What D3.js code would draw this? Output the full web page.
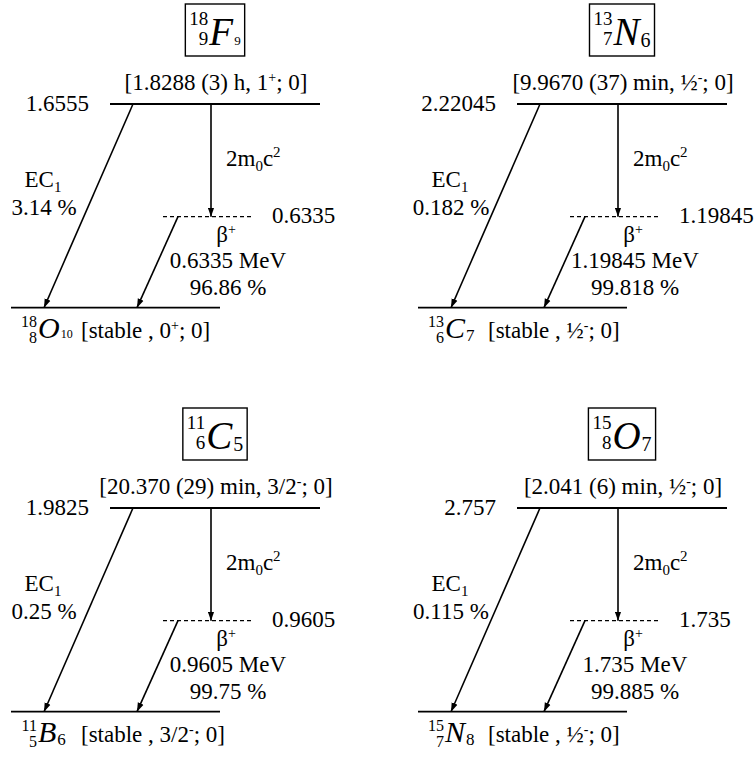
<!DOCTYPE html>
<html>
<head>
<meta charset="utf-8">
<script src="https://cdn.jsdelivr.net/npm/d3@7"></script>
<style>
  body { margin: 0; background: #fff; }
  svg, svg text { font-family: "Liberation Serif", "Times New Roman", Tinos, "DejaVu Serif", "Noto Serif", serif; }
  text { fill: #000; }
</style>
</head>
<body>
<svg id="chart" width="754" height="759"></svg>
<script>
// ---- Decay data: four positron emitters and their stable daughters ----
const parentSymbol   = ["F", "N", "C", "O"];
const parentA        = [18, 13, 11, 15];
const parentZ        = [9, 7, 6, 8];
const parentN        = [9, 6, 5, 7];
const halfLife       = ["1.8288 (3) h", "9.9670 (37) min", "20.370 (29) min", "2.041 (6) min"];
const parentSpin     = ["1", "½", "3/2", "½"];
const parentParity   = ["+", "-", "-", "-"];
const decayEnergy    = [1.6555, 2.22045, 1.9825, 2.757];    // MeV, EC transition energy
const betaEnergy     = [0.6335, 1.19845, 0.9605, 1.735];    // MeV, positron end-point energy
const ecBranch       = [3.14, 0.182, 0.25, 0.115];          // %
const betaBranch     = [96.86, 99.818, 99.75, 99.885];      // %
const daughterSymbol = ["O", "C", "B", "N"];
const daughterA      = [18, 13, 11, 15];
const daughterZ      = [8, 6, 5, 7];
const daughterN      = [10, 7, 6, 8];
const daughterSpin   = ["0", "½", "3/2", "½"];
const daughterParity = ["+", "-", "-", "-"];
const levelNames     = ["parent", "annihilation", "ground"];

// ---- Layout ----
const FONT = '"Liberation Serif", "Times New Roman", Tinos, "DejaVu Serif", serif';
const smallNeutronScript = [true, false, false, false];
const svg = d3.select("#chart").attr("font-family", FONT);
const colX = d3.scaleOrdinal().domain([0, 1]).range([0, 407]);
const rowY = d3.scaleOrdinal().domain([0, 1]).range([0, 404]);
const levelY = d3.scaleOrdinal().domain(levelNames).range([104, 216.7, 307.7]);
const FS = 23;

const defs = svg.append("defs");
defs.append("marker")
  .attr("id", "arrow")
  .attr("viewBox", "0 0 10 7")
  .attr("refX", 10).attr("refY", 3.5)
  .attr("markerWidth", 9).attr("markerHeight", 7)
  .attr("markerUnits", "userSpaceOnUse")
  .attr("orient", "auto")
  .append("path").attr("d", "M0,0 L10,3.5 L0,7 Z").attr("fill", "#000");

// Nuclide symbol with pre-scripts A (top) and Z (bottom) and post-subscript N
function nuclide(g, x, base, sym, A, Z, N, o) {
  const grp = g.append("g");
  grp.append("text").attr("x", x - 1).attr("y", base - o.supRise)
    .attr("text-anchor", "end").attr("font-size", o.script).text(A);
  grp.append("text").attr("x", x - 1).attr("y", base + o.subDrop)
    .attr("text-anchor", "end").attr("font-size", o.script).text(Z);
  const s = grp.append("text").attr("x", x).attr("y", base)
    .attr("font-size", o.sym).attr("font-style", "italic").text(sym);
  const w = s.node().getComputedTextLength();
  grp.append("text").attr("x", x + w + o.nGap).attr("y", base + o.nDrop)
    .attr("font-size", o.nSize).text(N);
  return grp;
}

d3.range(4).forEach(i => {
  const g = svg.append("g")
    .attr("transform", `translate(${colX(i % 2)},${rowY(Math.floor(i / 2))})`);
  const yP = levelY("parent"), yA = levelY("annihilation"), yG = levelY("ground");

  // parent nuclide in a frame
  const small = smallNeutronScript[i];
  const pn = nuclide(g, 209, 45, parentSymbol[i], parentA[i], parentZ[i], parentN[i],
    { sym: 39, script: 19, supRise: 20, subDrop: 0, nGap: 1, nDrop: small ? 0 : 2, nSize: small ? 13 : 20 });
  const bb = pn.node().getBBox();
  const cx = 215, shift = cx - (bb.x + bb.width / 2);
  pn.attr("transform", `translate(${shift},0)`);
  const bw = bb.width + 8;
  g.append("rect").attr("x", cx - bw / 2).attr("y", 4).attr("width", bw).attr("height", 52)
    .attr("fill", "none").attr("stroke", "#000").attr("stroke-width", 1.4);

  // half-life, spin-parity label
  const hl = g.append("text").attr("x", 216).attr("y", 90).attr("text-anchor", "middle")
    .attr("font-size", FS);
  hl.append("tspan").text(`[${halfLife[i]}, ${parentSpin[i]}`);
  hl.append("tspan").attr("dy", -8).attr("font-size", 14).text(parentParity[i]);
  hl.append("tspan").attr("dy", 8).text("; 0]");

  // levels
  g.append("line").attr("x1", 110).attr("x2", 320).attr("y1", yP).attr("y2", yP)
    .attr("stroke", "#000").attr("stroke-width", 1.8);
  g.append("line").attr("x1", 163).attr("x2", 253).attr("y1", yA).attr("y2", yA)
    .attr("stroke", "#000").attr("stroke-width", 1.2).attr("stroke-dasharray", "4,3");
  g.append("line").attr("x1", 11).attr("x2", 220).attr("y1", yG).attr("y2", yG)
    .attr("stroke", "#000").attr("stroke-width", 1.8);

  // transitions
  g.append("line").attr("x1", 133).attr("y1", yP).attr("x2", 44).attr("y2", yG)
    .attr("stroke", "#000").attr("stroke-width", 1.6).attr("marker-end", "url(#arrow)");
  g.append("line").attr("x1", 211).attr("y1", yP).attr("x2", 211).attr("y2", yA)
    .attr("stroke", "#000").attr("stroke-width", 1.6).attr("marker-end", "url(#arrow)");
  g.append("line").attr("x1", 178).attr("y1", yA).attr("x2", 137).attr("y2", yG)
    .attr("stroke", "#000").attr("stroke-width", 1.6).attr("marker-end", "url(#arrow)");

  // level energies
  g.append("text").attr("x", 89).attr("y", yP + 7).attr("text-anchor", "end")
    .attr("font-size", FS).text(String(decayEnergy[i]));
  g.append("text").attr("x", 272).attr("y", yA + 6)
    .attr("font-size", FS).text(String(betaEnergy[i]));

  // 2 m0 c^2
  const mc = g.append("text").attr("x", 226).attr("y", 166).attr("font-size", FS);
  mc.append("tspan").text("2m");
  mc.append("tspan").attr("dy", 5).attr("font-size", 15).text("0");
  mc.append("tspan").attr("dy", -5).text("c");
  mc.append("tspan").attr("dy", -9).attr("font-size", 15).text("2");

  // EC branch
  const ec = g.append("text").attr("x", 43).attr("y", 187).attr("text-anchor", "middle")
    .attr("font-size", FS);
  ec.append("tspan").text("EC");
  ec.append("tspan").attr("dy", 5).attr("font-size", 15).text("1");
  g.append("text").attr("x", 44).attr("y", 215).attr("text-anchor", "middle")
    .attr("font-size", FS).text(`${ecBranch[i]} %`);

  // beta+ branch
  const bt = g.append("text").attr("x", 226).attr("y", 242).attr("text-anchor", "middle")
    .attr("font-size", FS);
  bt.append("tspan").text("β");
  bt.append("tspan").attr("dy", -8).attr("font-size", 14).text("+");
  g.append("text").attr("x", 228).attr("y", 268).attr("text-anchor", "middle")
    .attr("font-size", FS).text(`${betaEnergy[i]} MeV`);
  g.append("text").attr("x", 228).attr("y", 295).attr("text-anchor", "middle")
    .attr("font-size", FS).text(`${betaBranch[i]} %`);

  // daughter nuclide
  nuclide(g, 38, 338, daughterSymbol[i], daughterA[i], daughterZ[i], daughterN[i],
    { sym: 30, script: 16, supRise: 11, subDrop: 5, nGap: 1, nDrop: small ? 0 : 3, nSize: small ? 12 : 17 });
  const st = g.append("text").attr("x", 81).attr("y", 338).attr("font-size", FS);
  st.append("tspan").text(`[stable , ${daughterSpin[i]}`);
  st.append("tspan").attr("dy", -8).attr("font-size", 14).text(daughterParity[i]);
  st.append("tspan").attr("dy", 8).text("; 0]");
});
</script>
</body>
</html>
